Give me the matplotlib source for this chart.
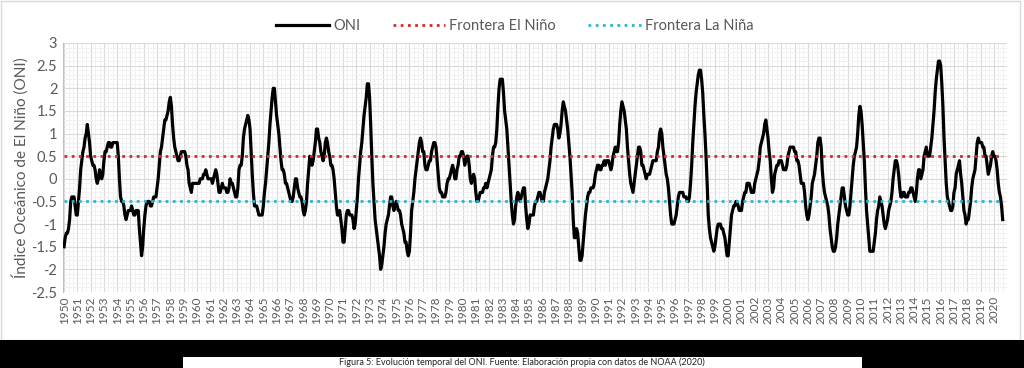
import matplotlib
matplotlib.use("Agg")
from matplotlib import pyplot as plt
from matplotlib.patches import Rectangle
from matplotlib.ticker import MultipleLocator
import numpy as np

# ONI, 3-month running means (DJF ... NDJ), one row per year
oni_1950s = [
    -1.5, -1.3, -1.2, -1.2, -1.1, -0.9, -0.5, -0.4, -0.4, -0.4, -0.6, -0.8,
    -0.8, -0.5, -0.2, 0.2, 0.4, 0.6, 0.7, 0.9, 1.0, 1.2, 1.0, 0.8,
    0.5, 0.4, 0.3, 0.3, 0.2, 0.0, -0.1, 0.0, 0.2, 0.1, 0.0, 0.1,
    0.4, 0.6, 0.6, 0.7, 0.8, 0.8, 0.7, 0.7, 0.8, 0.8, 0.8, 0.8,
    0.8, 0.5, 0.0, -0.4, -0.5, -0.5, -0.6, -0.8, -0.9, -0.8, -0.7, -0.7,
    -0.7, -0.6, -0.7, -0.8, -0.8, -0.7, -0.7, -0.7, -1.1, -1.4, -1.7, -1.5,
    -1.1, -0.8, -0.6, -0.5, -0.5, -0.5, -0.6, -0.6, -0.5, -0.4, -0.4, -0.4,
    -0.2, 0.0, 0.3, 0.6, 0.7, 0.9, 1.1, 1.3, 1.3, 1.4, 1.5, 1.7,
    1.8, 1.6, 1.2, 0.9, 0.7, 0.6, 0.5, 0.4, 0.4, 0.5, 0.6, 0.6,
    0.6, 0.6, 0.5, 0.3, 0.2, -0.1, -0.2, -0.3, -0.1, -0.1, -0.1, -0.1,
]
oni_1960s = [
    -0.1, -0.1, -0.1, 0.0, 0.0, 0.0, 0.1, 0.1, 0.2, 0.1, 0.0, 0.0,
    0.0, 0.0, -0.1, 0.0, 0.1, 0.2, 0.1, -0.1, -0.3, -0.3, -0.2, -0.1,
    -0.2, -0.2, -0.2, -0.3, -0.3, -0.2, 0.0, -0.1, -0.1, -0.2, -0.3, -0.4,
    -0.4, -0.2, 0.2, 0.3, 0.3, 0.5, 0.9, 1.1, 1.2, 1.3, 1.4, 1.3,
    1.1, 0.6, 0.1, -0.3, -0.6, -0.6, -0.6, -0.7, -0.8, -0.8, -0.8, -0.8,
    -0.6, -0.3, -0.1, 0.2, 0.5, 0.8, 1.2, 1.5, 1.8, 2.0, 2.0, 1.7,
    1.4, 1.2, 1.0, 0.7, 0.4, 0.2, 0.2, 0.1, -0.1, -0.1, -0.2, -0.3,
    -0.4, -0.5, -0.5, -0.4, -0.2, 0.0, 0.0, -0.2, -0.3, -0.4, -0.4, -0.5,
    -0.7, -0.8, -0.7, -0.5, -0.1, 0.2, 0.5, 0.4, 0.3, 0.4, 0.6, 0.8,
    1.1, 1.1, 0.9, 0.8, 0.6, 0.5, 0.4, 0.5, 0.8, 0.9, 0.8, 0.6,
]
oni_1970s = [
    0.5, 0.3, 0.3, 0.2, 0.0, -0.3, -0.6, -0.8, -0.8, -0.7, -0.9, -1.1,
    -1.4, -1.4, -1.1, -0.8, -0.7, -0.7, -0.8, -0.8, -0.8, -0.9, -1.1, -1.0,
    -0.7, -0.4, 0.0, 0.3, 0.6, 0.8, 1.1, 1.4, 1.6, 1.8, 2.1, 2.1,
    1.8, 1.2, 0.5, -0.1, -0.5, -0.9, -1.1, -1.3, -1.5, -1.7, -2.0, -1.9,
    -1.7, -1.5, -1.2, -1.0, -0.9, -0.8, -0.6, -0.4, -0.4, -0.6, -0.7, -0.6,
    -0.5, -0.6, -0.7, -0.7, -0.8, -1.0, -1.1, -1.2, -1.4, -1.4, -1.6, -1.7,
    -1.6, -1.2, -0.7, -0.5, -0.3, 0.0, 0.2, 0.4, 0.6, 0.8, 0.9, 0.8,
    0.6, 0.6, 0.3, 0.2, 0.2, 0.3, 0.4, 0.4, 0.6, 0.7, 0.8, 0.8,
    0.7, 0.4, 0.1, -0.2, -0.3, -0.3, -0.4, -0.4, -0.4, -0.3, -0.1, 0.0,
    0.0, 0.1, 0.2, 0.3, 0.2, 0.0, 0.0, 0.2, 0.3, 0.5, 0.5, 0.6,
]
oni_1980s = [
    0.6, 0.5, 0.3, 0.4, 0.5, 0.5, 0.3, 0.0, -0.1, 0.0, 0.1, 0.0,
    -0.3, -0.5, -0.5, -0.4, -0.3, -0.3, -0.3, -0.2, -0.2, -0.1, -0.2, -0.1,
    0.0, 0.1, 0.2, 0.5, 0.7, 0.7, 0.8, 1.1, 1.6, 2.0, 2.2, 2.2,
    2.2, 1.9, 1.5, 1.3, 1.1, 0.7, 0.3, -0.1, -0.5, -0.8, -1.0, -0.9,
    -0.6, -0.4, -0.3, -0.4, -0.5, -0.4, -0.3, -0.2, -0.2, -0.6, -0.9, -1.1,
    -1.0, -0.8, -0.8, -0.8, -0.8, -0.6, -0.5, -0.5, -0.4, -0.3, -0.3, -0.4,
    -0.5, -0.5, -0.3, -0.2, -0.1, 0.0, 0.2, 0.4, 0.7, 0.9, 1.1, 1.2,
    1.2, 1.2, 1.1, 0.9, 1.0, 1.2, 1.5, 1.7, 1.6, 1.5, 1.3, 1.1,
    0.8, 0.5, 0.1, -0.3, -0.9, -1.3, -1.3, -1.1, -1.2, -1.5, -1.8, -1.8,
    -1.7, -1.4, -1.1, -0.8, -0.6, -0.4, -0.3, -0.3, -0.2, -0.2, -0.2, -0.1,
]
oni_1990s = [
    0.1, 0.2, 0.3, 0.3, 0.2, 0.2, 0.3, 0.3, 0.4, 0.3, 0.4, 0.4,
    0.4, 0.3, 0.2, 0.3, 0.5, 0.6, 0.7, 0.6, 0.6, 0.8, 1.2, 1.5,
    1.7, 1.6, 1.5, 1.3, 1.1, 0.7, 0.4, 0.1, -0.1, -0.2, -0.3, -0.1,
    0.1, 0.3, 0.5, 0.7, 0.7, 0.6, 0.3, 0.3, 0.2, 0.1, 0.0, 0.1,
    0.1, 0.1, 0.2, 0.3, 0.4, 0.4, 0.4, 0.4, 0.6, 0.7, 1.0, 1.1,
    1.0, 0.7, 0.5, 0.3, 0.1, 0.0, -0.2, -0.5, -0.8, -1.0, -1.0, -1.0,
    -0.9, -0.8, -0.6, -0.4, -0.3, -0.3, -0.3, -0.3, -0.4, -0.4, -0.4, -0.5,
    -0.5, -0.4, -0.1, 0.3, 0.8, 1.2, 1.6, 1.9, 2.1, 2.3, 2.4, 2.4,
    2.2, 1.9, 1.4, 1.0, 0.5, -0.1, -0.8, -1.1, -1.3, -1.4, -1.5, -1.6,
    -1.5, -1.3, -1.1, -1.0, -1.0, -1.0, -1.1, -1.1, -1.2, -1.3, -1.5, -1.7,
]
oni_2000s = [
    -1.7, -1.4, -1.1, -0.8, -0.7, -0.6, -0.6, -0.5, -0.5, -0.6, -0.7, -0.7,
    -0.7, -0.5, -0.4, -0.3, -0.3, -0.1, -0.1, -0.1, -0.2, -0.3, -0.3, -0.3,
    -0.1, 0.0, 0.1, 0.2, 0.4, 0.7, 0.8, 0.9, 1.0, 1.2, 1.3, 1.1,
    0.9, 0.6, 0.4, 0.0, -0.3, -0.2, 0.1, 0.2, 0.3, 0.3, 0.4, 0.4,
    0.4, 0.3, 0.2, 0.2, 0.2, 0.3, 0.5, 0.6, 0.7, 0.7, 0.7, 0.7,
    0.6, 0.6, 0.4, 0.4, 0.3, 0.1, -0.1, -0.1, -0.1, -0.3, -0.6, -0.8,
    -0.9, -0.8, -0.6, -0.4, -0.1, 0.0, 0.1, 0.3, 0.5, 0.8, 0.9, 0.9,
    0.7, 0.2, -0.1, -0.3, -0.4, -0.5, -0.6, -0.8, -1.1, -1.3, -1.5, -1.6,
    -1.6, -1.5, -1.3, -1.0, -0.8, -0.6, -0.4, -0.2, -0.2, -0.4, -0.6, -0.7,
    -0.8, -0.8, -0.6, -0.3, 0.0, 0.3, 0.5, 0.6, 0.7, 1.0, 1.4, 1.6,
]
oni_2010s = [
    1.5, 1.2, 0.8, 0.4, -0.2, -0.7, -1.0, -1.3, -1.6, -1.6, -1.6, -1.6,
    -1.4, -1.2, -0.9, -0.7, -0.6, -0.4, -0.5, -0.6, -0.8, -1.0, -1.1, -1.0,
    -0.9, -0.7, -0.6, -0.5, -0.3, 0.0, 0.2, 0.4, 0.4, 0.3, 0.1, -0.2,
    -0.4, -0.4, -0.3, -0.3, -0.4, -0.4, -0.4, -0.3, -0.3, -0.2, -0.2, -0.3,
    -0.4, -0.5, -0.3, 0.0, 0.2, 0.2, 0.0, 0.1, 0.2, 0.5, 0.6, 0.7,
    0.5, 0.5, 0.5, 0.7, 0.9, 1.2, 1.5, 1.9, 2.2, 2.4, 2.6, 2.6,
    2.5, 2.1, 1.6, 0.9, 0.4, -0.1, -0.4, -0.5, -0.6, -0.7, -0.7, -0.6,
    -0.3, -0.2, 0.1, 0.2, 0.3, 0.4, 0.1, -0.1, -0.4, -0.7, -0.8, -1.0,
    -0.9, -0.9, -0.7, -0.5, -0.2, 0.0, 0.1, 0.2, 0.5, 0.8, 0.9, 0.8,
    0.8, 0.8, 0.7, 0.7, 0.5, 0.5, 0.3, 0.1, 0.2, 0.3, 0.5, 0.6,
]
oni_2020 = [0.5, 0.5, 0.4, 0.2, -0.1, -0.3, -0.4, -0.6, -0.9]

frontera_nino = 0.5
frontera_nina = -0.5
years = list(range(1950, 2021))

oni = np.array(oni_1950s + oni_1960s + oni_1970s + oni_1980s
               + oni_1990s + oni_2000s + oni_2010s + oni_2020)
x = np.arange(len(oni))

plt.rcParams['font.family'] = ['Lato', 'DejaVu Sans']
gray = '#595959'

fig = plt.figure(figsize=(10.24, 3.68), dpi=100)
# chart frame and the dark strip with the caption box below it
fig.patches.append(Rectangle((0.001, 0.077), 0.995, 0.92, transform=fig.transFigure,
                             facecolor='white', edgecolor='#D9D9D9', lw=1, zorder=-2))
fig.patches.append(Rectangle((0, 0), 1, 0.076, transform=fig.transFigure,
                             facecolor='black', edgecolor='none', zorder=-2))
fig.patches.append(Rectangle((0.179, 0), 0.663, 0.031, transform=fig.transFigure,
                             facecolor='white', edgecolor='none', zorder=-1))
fig.text(0.51, 0.003, 'Figura 5: Evolución temporal del ONI. Fuente: Elaboración propia con datos de NOAA (2020)',
         ha='center', va='bottom', fontsize=6.5, color='#222222')

ax = fig.add_axes([0.0615, 0.2065, 0.922, 0.6767])
ax.set_zorder(2)
ax.plot(x, oni, color='black', lw=2.3, label='ONI', zorder=3)
ax.plot(x, np.full(len(oni), frontera_nino), color='#D42A2A', lw=2.0,
        linestyle=(0, (1, 1.6)), label='Frontera El Niño', zorder=4)
ax.plot(x, np.full(len(oni), frontera_nina), color='#2FB2CC', lw=2.0,
        linestyle=(0, (1, 1.6)), label='Frontera La Niña', zorder=4)

ax.set_xlim(-1, len(oni) + 3)
ax.set_ylim(-2.5, 3)
ax.set_xticks(np.arange(0, len(oni), 12))
ax.set_xticklabels([str(y) for y in years], rotation=90, fontsize=8.5, color=gray)
ax.xaxis.set_minor_locator(MultipleLocator(4))
ax.yaxis.set_major_locator(MultipleLocator(0.5))
ax.yaxis.set_minor_locator(MultipleLocator(0.1))
ax.set_yticklabels([f'{v:g}' for v in ax.get_yticks()])
ax.tick_params(axis='y', labelsize=10.5, labelcolor=gray, length=0, pad=4)
ax.tick_params(axis='x', length=0, pad=3)
ax.tick_params(which='minor', length=0)

ax.grid(which='major', color='#D9D9D9', lw=0.8)
ax.grid(which='minor', color='#EFEFEF', lw=0.6)
ax.set_axisbelow(True)
for s in ['top', 'right', 'bottom']:
    ax.spines[s].set_visible(False)
ax.spines['left'].set_color('#BFBFBF')

ax.set_ylabel('Índice Oceánico de El Niño (ONI)', fontsize=11, color=gray, labelpad=2)

fig.legend(loc='upper center', bbox_to_anchor=(0.503, 0.985), ncol=3, frameon=False,
           fontsize=10.5, labelcolor=gray, handlelength=3.6, columnspacing=2.2,
           handletextpad=0.3)

fig.savefig('out.png', dpi=100)
